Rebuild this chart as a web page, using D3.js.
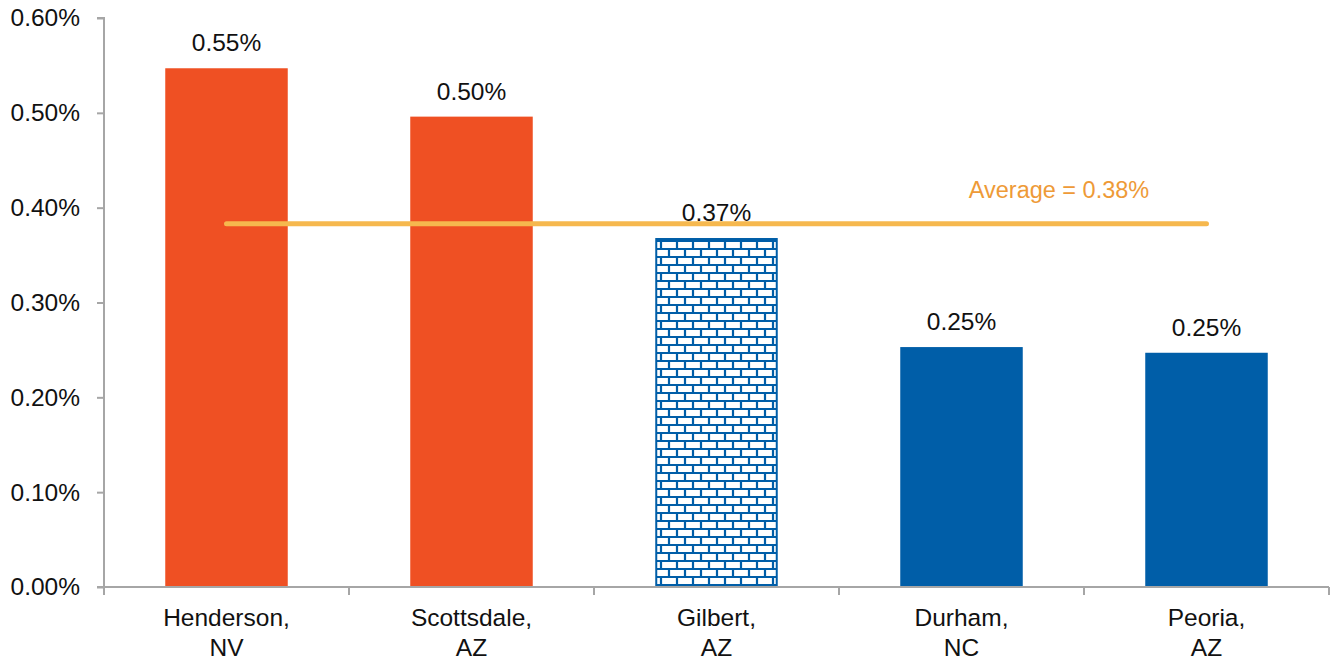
<!DOCTYPE html>
<html>
<head>
<meta charset="utf-8">
<script src="https://cdn.jsdelivr.net/npm/d3@7"></script>
<style>
  html, body { margin: 0; padding: 0; background: #fff; }
  svg { display: block; }
</style>
</head>
<body>
<svg id="chart" width="1334" height="662"></svg>
<script>
// Category names (two lines each), values and styling per bar
const cities = ["Henderson,", "Scottsdale,", "Gilbert,", "Durham,", "Peoria,"];
const states = ["NV", "AZ", "AZ", "NC", "AZ"];
const rates = [0.00547, 0.00496, 0.00368, 0.00253, 0.00247];
const fills = ["solid-orange", "solid-orange", "brick", "solid-blue", "solid-blue"];
const average = 0.00383;
const yTicks = [0, 0.001, 0.002, 0.003, 0.004, 0.005, 0.006];

const ORANGE = "#EF5023";
const BLUE = "#005EA8";
const AXIS = "#A6A6A6";
const FONT = "'Liberation Sans', Arial, sans-serif";
const FS = 24.5;

const svg = d3.select("#chart");
const margin = { left: 104, right: 5, top: 18, bottom: 75 };
const W = 1334, H = 662;

const x = d3.scaleBand()
  .domain(d3.range(cities.length))
  .range([margin.left, W - margin.right])
  .paddingInner(0).paddingOuter(0);

const y = d3.scaleLinear()
  .domain([0, 0.006])
  .range([H - margin.bottom, margin.top]);

// Brick hatch used for the highlighted bar
const defs = svg.append("defs");
const pat = defs.append("pattern")
  .attr("id", "brick")
  .attr("patternUnits", "userSpaceOnUse")
  .attr("width", 16).attr("height", 16)
  .attr("x", 0).attr("y", 0);
pat.append("rect").attr("width", 16).attr("height", 16).attr("fill", "#fff");
pat.append("path")
  .attr("d", "M0,1H16 M0,9H16 M5,1V9 M13,9V16 M13,0V1")
  .attr("stroke", BLUE).attr("stroke-width", 2.2).attr("fill", "none");

// Bars
const barW = x.bandwidth() * 0.5;
const bars = svg.append("g");
rates.forEach((v, i) => {
  const bx = x(i) + (x.bandwidth() - barW) / 2;
  const r = bars.append("rect")
    .attr("x", bx)
    .attr("y", y(v))
    .attr("width", barW)
    .attr("height", y(0) - y(v));
  if (fills[i] === "brick") {
    r.attr("fill", "url(#brick)").attr("stroke", BLUE).attr("stroke-width", 2)
     .attr("x", bx + 1).attr("width", barW - 2).attr("y", y(v) + 1).attr("height", y(0) - y(v) - 1);
  } else {
    r.attr("fill", fills[i] === "solid-orange" ? ORANGE : BLUE);
  }
});

// Value labels above bars
const fmt = d3.format(".2%");
svg.append("g").selectAll("text")
  .data(rates)
  .join("text")
  .attr("x", (d, i) => x(i) + x.bandwidth() / 2)
  .attr("y", d => y(d) - 17)
  .attr("text-anchor", "middle")
  .attr("font-family", FONT)
  .attr("font-size", FS)
  .attr("fill", "#111")
  .text(d => fmt(d));

// Y axis
const yAxis = d3.axisLeft(y)
  .tickValues(yTicks)
  .tickFormat(d3.format(".2%"))
  .tickSize(7)
  .tickPadding(17);
const gy = svg.append("g")
  .attr("transform", `translate(${margin.left},0)`)
  .call(yAxis);
gy.select(".domain").attr("stroke", AXIS).attr("stroke-width", 2)
  .attr("d", `M-7,${y(0.006)}H0V${y(0)}H-7`);
gy.selectAll(".tick line").attr("stroke", AXIS).attr("stroke-width", 2);
gy.selectAll(".tick text")
  .attr("font-family", FONT)
  .attr("font-size", FS)
  .attr("fill", "#111");

// X axis: baseline with ticks at band boundaries
const gx = svg.append("g");
gx.append("line")
  .attr("x1", margin.left - 7).attr("x2", W - margin.right)
  .attr("y1", y(0)).attr("y2", y(0))
  .attr("stroke", AXIS).attr("stroke-width", 2);
const bounds = d3.range(cities.length + 1).map(i =>
  i < cities.length ? x(i) : x(cities.length - 1) + x.bandwidth());
gx.selectAll("line.tk")
  .data(bounds)
  .join("line")
  .attr("class", "tk")
  .attr("x1", d => d).attr("x2", d => d)
  .attr("y1", y(0)).attr("y2", y(0) + 8)
  .attr("stroke", AXIS).attr("stroke-width", 2);

const cat = gx.selectAll("text.cat")
  .data(cities)
  .join("text")
  .attr("class", "cat")
  .attr("x", (d, i) => x(i) + x.bandwidth() / 2)
  .attr("text-anchor", "middle")
  .attr("font-family", FONT)
  .attr("font-size", FS)
  .attr("fill", "#111");
cat.append("tspan").attr("y", 626).text(d => d);
cat.append("tspan")
  .attr("x", (d, i) => x(i) + x.bandwidth() / 2)
  .attr("y", 656)
  .text((d, i) => states[i]);

// Average line and label
svg.append("line")
  .attr("x1", x(0) + x.bandwidth() / 2)
  .attr("x2", x(4) + x.bandwidth() / 2)
  .attr("y1", y(average)).attr("y2", y(average))
  .attr("stroke", "#F6B84E").attr("stroke-width", 5)
  .attr("stroke-linecap", "round");
svg.append("text")
  .attr("x", 1059)
  .attr("y", y(average) - 26)
  .attr("text-anchor", "middle")
  .attr("font-family", FONT)
  .attr("font-size", FS - 1)
  .attr("fill", "#EE9A37")
  .text("Average = " + fmt(average));
</script>
</body>
</html>
